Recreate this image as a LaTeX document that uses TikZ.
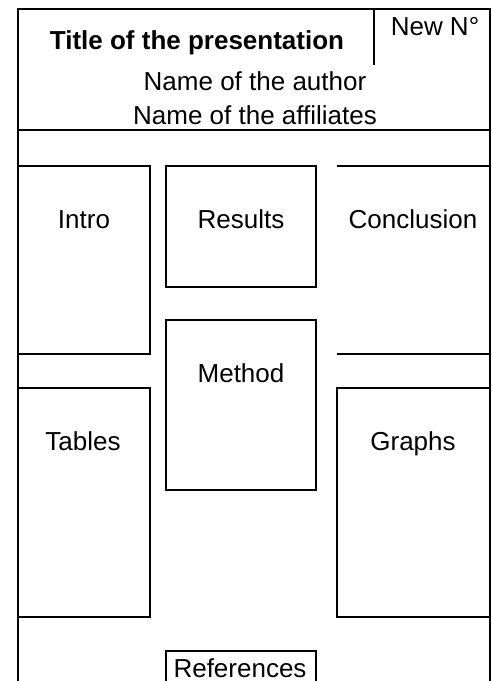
\documentclass[tikz,border=0pt]{standalone}
\usepackage{fontspec}
\setmainfont{Liberation Sans}
\begin{document}
\begin{tikzpicture}[x=1pt,y=-1pt,
  frame/.style={line width=2.9pt,line cap=rect},
  boxline/.style={line width=2.9pt},
  lbl/.style={anchor=base,inner sep=0pt,font=\fontsize{26}{30}\selectfont}]
\useasboundingbox (0,0) rectangle (492,681);
% outer frame
\draw[frame] (18,690) -- (18,9) -- (490,9) -- (490,690);
\draw[boxline] (374,9) -- (374,65);
\draw[boxline] (18,130) -- (490,130);
% boxes
\draw[boxline] (18,166) rectangle (150,354);
\draw[boxline] (166,166) rectangle (316,287);
\draw[boxline] (337,166) -- (490,166);
\draw[boxline] (337,354) -- (490,354);
\draw[boxline] (166,320) rectangle (316,490);
\draw[boxline] (18,388) rectangle (150,617);
\draw[boxline] (490,388) -- (337,388) -- (337,617) -- (490,617);
\draw[boxline] (166,690) -- (166,651) -- (316,651) -- (316,690);
% texts
\node[lbl,font=\fontsize{26}{30}\selectfont\bfseries] (title) at (197,49) {Title of the presentation};
\node[lbl] (newno) at (435,35) {New N°};
\node[lbl] (author) at (255,90) {Name of the author};
\node[lbl] (affil) at (255,124) {Name of the affiliates};
\node[lbl] (intro) at (84,228) {Intro};
\node[lbl] (results) at (241,228) {Results};
\node[lbl] (concl) at (413,228) {Conclusion};
\node[lbl] (method) at (241,382) {Method};
\node[lbl] (tables) at (83,450) {Tables};
\node[lbl] (graphs) at (413,450) {Graphs};
\node[lbl] (refs) at (240,677) {References};
\end{tikzpicture}
\end{document}
